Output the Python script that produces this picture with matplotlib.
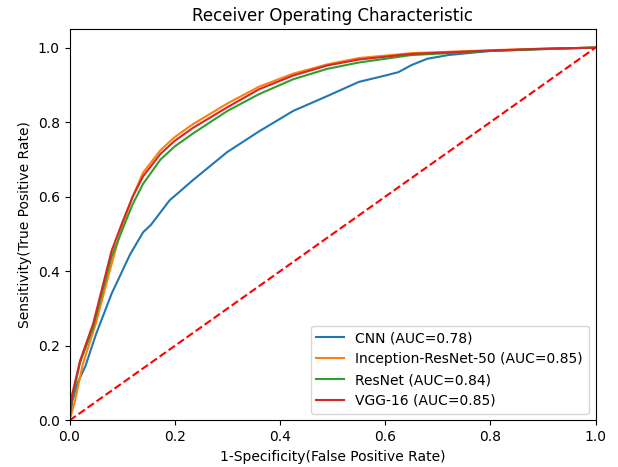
import matplotlib
matplotlib.use("Agg")
import matplotlib.pyplot as plt

# ROC points
cnn_fpr = [0, 0.005, 0.015, 0.03, 0.05, 0.08, 0.115, 0.14, 0.155, 0.19, 0.235, 0.30,
           0.36, 0.425, 0.49, 0.55, 0.60, 0.625, 0.65, 0.68, 0.72, 0.80, 0.90, 1.0]
cnn_tpr = [0, 0.05, 0.10, 0.145, 0.23, 0.34, 0.445, 0.505, 0.525, 0.59, 0.645, 0.72,
           0.775, 0.83, 0.87, 0.908, 0.925, 0.934, 0.953, 0.970, 0.980, 0.991, 0.996, 1.0]

inc_fpr = [0, 0.01, 0.025, 0.05, 0.08, 0.1, 0.12, 0.14, 0.173, 0.2, 0.235, 0.3,
           0.36, 0.425, 0.49, 0.55, 0.65, 0.8, 0.9, 1.0]
inc_tpr = [0, 0.05, 0.15, 0.26, 0.42, 0.52, 0.6, 0.665, 0.725, 0.76, 0.795, 0.85,
           0.895, 0.93, 0.955, 0.972, 0.985, 0.993, 0.997, 1.0]

res_fpr = [0, 0.005, 0.02, 0.045, 0.08, 0.1, 0.12, 0.14, 0.173, 0.2, 0.235, 0.3,
           0.36, 0.425, 0.49, 0.55, 0.65, 0.8, 0.9, 1.0]
res_tpr = [0, 0.06, 0.155, 0.25, 0.44, 0.51, 0.58, 0.635, 0.7, 0.735, 0.77, 0.83,
           0.875, 0.915, 0.943, 0.96, 0.98, 0.991, 0.996, 1.0]

vgg_fpr = [0, 0.005, 0.02, 0.045, 0.08, 0.1, 0.12, 0.14, 0.173, 0.2, 0.235, 0.3,
           0.36, 0.425, 0.49, 0.55, 0.65, 0.8, 0.9, 1.0]
vgg_tpr = [0, 0.07, 0.16, 0.26, 0.455, 0.53, 0.6, 0.655, 0.715, 0.75, 0.785, 0.84,
           0.888, 0.925, 0.952, 0.968, 0.983, 0.992, 0.997, 1.0]

labels = ["CNN (AUC=0.78)", "Inception-ResNet-50 (AUC=0.85)",
          "ResNet (AUC=0.84)", "VGG-16 (AUC=0.85)"]

fig, ax = plt.subplots(figsize=(6.18, 4.67), dpi=100)
fig.subplots_adjust(left=0.1125, right=0.9636, bottom=0.0996, top=0.938)

ax.plot(cnn_fpr, cnn_tpr, label=labels[0])
ax.plot(inc_fpr, inc_tpr, label=labels[1])
ax.plot(res_fpr, res_tpr, label=labels[2])
ax.plot(vgg_fpr, vgg_tpr, label=labels[3])
ax.plot([0, 1], [0, 1], "r--")

ax.set_xlim(0, 1)
ax.set_ylim(0, 1.05)
ax.set_title("Receiver Operating Characteristic")
ax.set_xlabel("1-Specificity(False Positive Rate)")
ax.set_ylabel("Sensitivity(True Positive Rate)")
ax.legend(loc="lower right")

fig.savefig("out.png")
